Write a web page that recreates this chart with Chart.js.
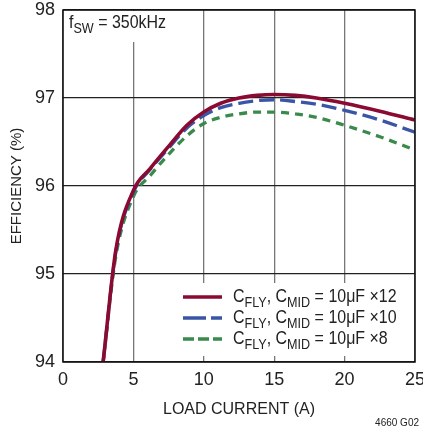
<!DOCTYPE html>
<html>
<head>
<meta charset="utf-8">
<script src="https://cdn.jsdelivr.net/npm/chart.js@4/dist/chart.umd.min.js"></script>
<style>
  html, body { margin: 0; padding: 0; background: #fff; }
  #wrap { width: 423px; height: 433px; }
</style>
</head>
<body>
<div id="wrap"><canvas id="chart" width="423" height="433"></canvas></div>
<script>
// load current (A) and efficiency (%)
var loadCurrent = [2.85, 3.75, 5, 6.2, 7.5, 8.8, 10, 11.2, 12.5, 13.8, 15, 16.5, 18, 20, 22.5, 25];
var eff12 = [94.0, 95.27, 95.95, 96.2, 96.45, 96.69, 96.84, 96.94, 97.0, 97.03, 97.04, 97.03, 97.0, 96.94, 96.85, 96.75];
var eff10 = [94.0, 95.25, 95.93, 96.19, 96.43, 96.66, 96.8, 96.89, 96.94, 96.97, 96.98, 96.96, 96.93, 96.86, 96.75, 96.61];
var eff8  = [94.0, 95.2, 95.88, 96.12, 96.36, 96.57, 96.71, 96.78, 96.82, 96.84, 96.84, 96.82, 96.78, 96.69, 96.56, 96.41];
var seriesLabels = ['C_{FLY}, C_{MID} = 10\u03bcF \u00d712', 'C_{FLY}, C_{MID} = 10\u03bcF \u00d710', 'C_{FLY}, C_{MID} = 10\u03bcF \u00d78'];
var xTicks = [0, 5, 10, 15, 20, 25];
var yTicks = [94, 95, 96, 97, 98];
var noteText = 'f_{SW} = 350kHz';
var figureId = '4660 G02';

var FONT = "'Liberation Sans Narrow', 'Arial Narrow', 'Liberation Sans', Arial, sans-serif";
var TEXT = '#222';
var SQUEEZE = 0.84; // the original type is a condensed face

function pts(ys) {
    return loadCurrent.map(function (x, i) { return { x: x, y: ys[i] }; });
}

// tick labels may hang over the frame, so drop the padding they ask for
function noOverhang(s) {
    s.paddingLeft = 0;
    s.paddingRight = 0;
    s.paddingTop = 0;
    s.paddingBottom = 0;
}

// draws text with _{...} parts as subscripts (squeezed horizontally)
function drawSubText(ctx, str, x, y, size) {
    ctx.save();
    ctx.translate(x, y);
    ctx.scale(SQUEEZE, 1);
    var cx = 0;
    str.split(/(_\{[^}]*\})/).forEach(function (p) {
        if (!p) return;
        if (p.indexOf('_{') === 0) {
            var s = p.slice(2, -1);
            ctx.font = Math.round(size * 0.8) + 'px ' + FONT;
            ctx.fillText(s, cx, size * 0.3);
            cx += ctx.measureText(s).width;
        } else {
            ctx.font = size + 'px ' + FONT;
            ctx.fillText(p, cx, 0);
            cx += ctx.measureText(p).width;
        }
    });
    ctx.restore();
}

var overlay = {
    id: 'overlay',
    beforeDatasetsDraw: function (chart) {
        var ctx = chart.ctx, a = chart.chartArea;
        ctx.save();
        ctx.fillStyle = '#fff';
        // blank behind the note and the legend
        ctx.fillRect(a.left + 1, a.top + 1, 118, 31);
        ctx.fillRect(a.left + 108, a.bottom - 79, a.right - a.left - 109, 73);
        ctx.restore();
    },
    afterDatasetsDraw: function (chart) {
        var ctx = chart.ctx, a = chart.chartArea;
        ctx.save();
        ctx.fillStyle = TEXT;
        ctx.textBaseline = 'middle';
        ctx.textAlign = 'left';
        drawSubText(ctx, noteText, a.left + 6, a.top + 13, 19);

        // legend
        var dashes = [[], [23, 5], [11, 4]];
        chart.data.datasets.forEach(function (ds, i) {
            var y = a.bottom - 65 + i * 21;
            ctx.beginPath();
            ctx.setLineDash(dashes[i]);
            ctx.strokeStyle = ds.borderColor;
            ctx.lineWidth = 3.5;
            ctx.moveTo(a.left + 120, y);
            ctx.lineTo(a.left + 159, y);
            ctx.stroke();
            ctx.setLineDash([]);
            ctx.fillStyle = TEXT;
            drawSubText(ctx, seriesLabels[i], a.left + 170, y, 19);
        });

        // frame
        ctx.strokeStyle = '#111';
        ctx.lineWidth = 1.5;
        ctx.strokeRect(a.left, a.top, a.right - a.left, a.bottom - a.top);

        ctx.font = '10px ' + FONT;
        ctx.textAlign = 'right';
        ctx.fillText(figureId, 419, 423);
        ctx.restore();
    }
};

var ctxC = document.getElementById('chart').getContext('2d');

new Chart(ctxC, {
    type: 'line',
    data: {
        datasets: [{
            label: seriesLabels[0],
            data: pts(eff12),
            borderColor: '#8b0a32',
            borderWidth: 3.6
        }, {
            label: seriesLabels[1],
            data: pts(eff10),
            borderColor: '#3a55a5',
            borderWidth: 3.3,
            borderDash: [15, 6]
        }, {
            label: seriesLabels[2],
            data: pts(eff8),
            borderColor: '#3a8a4c',
            borderWidth: 3.3,
            borderDash: [8, 6]
        }]
    },
    options: {
        responsive: false,
        animation: false,
        devicePixelRatio: 1,
        layout: { autoPadding: false, padding: { top: 10, right: 8, left: 0, bottom: 0 } },
        elements: {
            point: { radius: 0 },
            line: { cubicInterpolationMode: 'monotone', fill: false }
        },
        plugins: {
            legend: { display: false },
            tooltip: { enabled: false }
        },
        scales: {
            x: {
                type: 'linear',
                min: 0,
                max: 25,
                afterFit: function (s) { s.height = 71; noOverhang(s); },
                afterBuildTicks: function (s) { s.ticks = xTicks.map(function (v) { return { value: v }; }); },
                grid: { color: '#777', lineWidth: 1.3, drawTicks: false },
                border: { display: false },
                ticks: { color: TEXT, padding: 7, font: { family: FONT, size: 18 } },
                title: {
                    display: true,
                    text: 'LOAD CURRENT (A)',
                    color: TEXT,
                    font: { family: FONT, size: 16 },
                    padding: { top: 2, bottom: 14 }
                }
            },
            y: {
                min: 94,
                max: 98,
                afterFit: function (s) { s.width = 63; noOverhang(s); },
                afterBuildTicks: function (s) { s.ticks = yTicks.map(function (v) { return { value: v }; }); },
                grid: { color: '#222', lineWidth: 1.2, drawTicks: false },
                border: { display: false },
                ticks: { color: TEXT, padding: 8, font: { family: FONT, size: 18 } },
                title: {
                    display: true,
                    text: 'EFFICIENCY (%)',
                    color: TEXT,
                    font: { family: FONT, size: 15 },
                    padding: { top: 8, bottom: 0 }
                }
            }
        }
    },
    plugins: [overlay]
});
</script>
</body>
</html>
